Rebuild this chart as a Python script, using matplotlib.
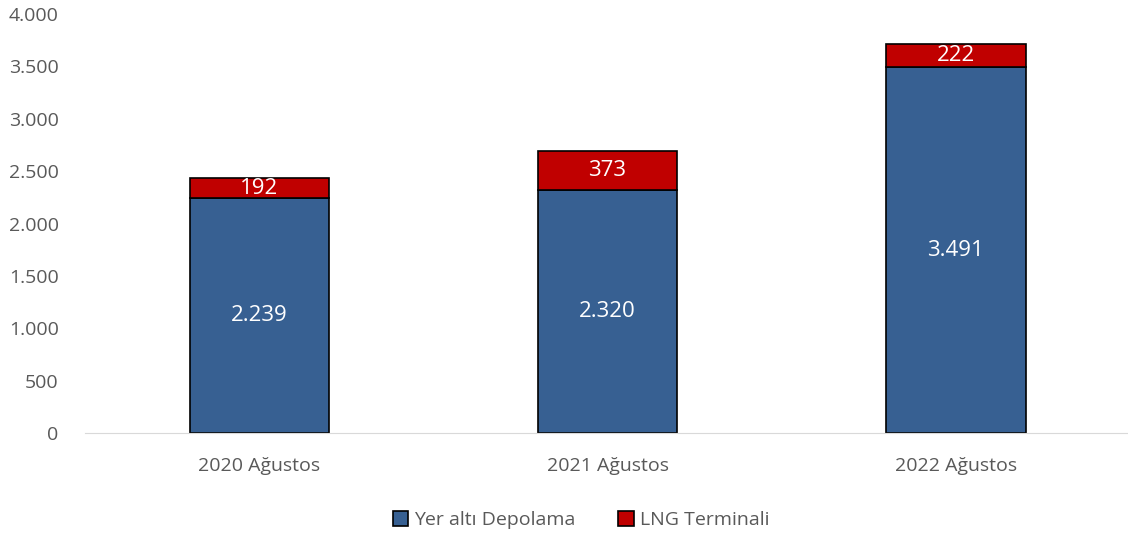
import matplotlib.pyplot as plt

categories = ['2020 Ağustos', '2021 Ağustos', '2022 Ağustos']
yer_alti = [2239, 2320, 3491]
lng = [192, 373, 222]
yticks = [0, 500, 1000, 1500, 2000, 2500, 3000, 3500, 4000]

plt.rcParams['font.family'] = ['Open Sans', 'DejaVu Sans']

fig = plt.figure(figsize=(11.28, 5.33), dpi=100)
ax = fig.add_axes([0.0754, 0.1876, 0.9264, 0.7861])

x = range(len(categories))
b1 = ax.bar(x, yer_alti, width=0.40, color='#376092', edgecolor='black', linewidth=1.2,
            label='Yer altı Depolama')
b2 = ax.bar(x, lng, width=0.40, bottom=yer_alti, color='#C00000', edgecolor='black',
            linewidth=1.2, label='LNG Terminali')

fmt = lambda v: f'{v:,}'.replace(',', '.')
ax.bar_label(b1, labels=[fmt(v) for v in yer_alti], label_type='center', color='white', fontsize=16)
ax.bar_label(b2, labels=[fmt(v) for v in lng], label_type='center', color='white', fontsize=16)

ax.set_xlim(-0.5, 2.5)
ax.set_ylim(0, 4000)
ax.set_yticks(yticks)
ax.set_yticklabels([fmt(v) for v in yticks])
ax.set_xticks(list(x))
ax.set_xticklabels(categories)
ax.tick_params(axis='both', length=0, labelsize=14, colors='#595959')
ax.tick_params(axis='x', pad=17)
ax.tick_params(axis='y', pad=19)
for s in ['top', 'right', 'left']:
    ax.spines[s].set_visible(False)
ax.spines['bottom'].set_color('#D9D9D9')

fig.legend(handles=[b1, b2], loc='lower center', bbox_to_anchor=(0.515, -0.025), ncol=2,
           frameon=False, fontsize=14, handlelength=0.8, handleheight=0.8,
           handletextpad=0.3, columnspacing=2.2, labelcolor='#595959')

fig.savefig('out.png', dpi=100)
